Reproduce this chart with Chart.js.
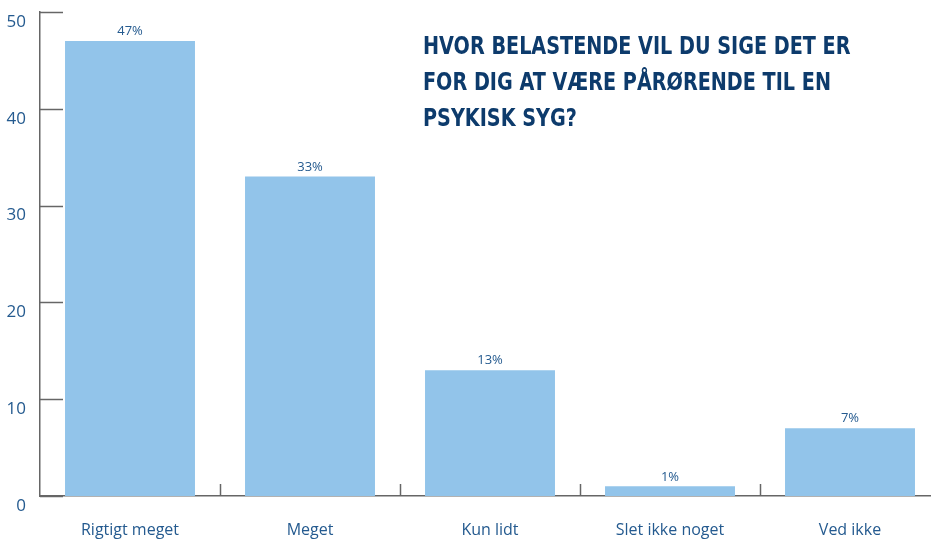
<!DOCTYPE html>
<html>
<head>
    <title>Pårørende belastning</title>
    <script src="https://cdn.jsdelivr.net/npm/chart.js"></script>
    <style>
        body { margin: 0; overflow: hidden; background: #fff; }
        #wrap { position: relative; width: 942px; height: 539px; }
        #title {
            position: absolute; left: 423px; top: 28px;
            font-family: "DejaVu Sans", sans-serif;
            font-weight: bold; font-size: 24px; line-height: 36px;
            color: #0d3b6c; white-space: nowrap;
            transform: scaleX(0.8); transform-origin: left top;
        }
    </style>
</head>
<body>
<div id="wrap">
    <canvas id="myChart"></canvas>
    <div id="title">HVOR BELASTENDE VIL DU SIGE DET ER<br>FOR DIG AT VÆRE PÅRØRENDE TIL EN<br>PSYKISK SYG?</div>
</div>

<script>
    // svarkategorier og andele (%)
    var categories = ["Rigtigt meget", "Meget", "Kun lidt", "Slet ikke noget", "Ved ikke"];
    var values = [47, 33, 13, 1, 7];
    var yTicks = [0, 10, 20, 30, 40, 50];

    var textColor = "#245a8f";
    var axisColor = "#666666";

    // små streger og procent-tekster
    var extras = {
        id: "extras",
        afterDraw: function(chart) {
            var ctx = chart.ctx;
            var area = chart.chartArea;
            var x = chart.scales.x, y = chart.scales.y;
            ctx.save();
            ctx.strokeStyle = axisColor;
            ctx.lineWidth = 1.5;
            // y-streger ind i plottet
            yTicks.forEach(function(v) {
                var py = Math.round(y.getPixelForValue(v)) + 0.5;
                ctx.beginPath();
                ctx.moveTo(area.left, py);
                ctx.lineTo(area.left + 23, py);
                ctx.stroke();
            });
            // streger mellem kategorier
            for (var i = 0; i < categories.length - 1; i++) {
                var bx = Math.round((x.getPixelForValue(i) + x.getPixelForValue(i + 1)) / 2) + 0.5;
                ctx.beginPath();
                ctx.moveTo(bx, area.bottom);
                ctx.lineTo(bx, area.bottom - 12);
                ctx.stroke();
            }
            // procent over søjler
            ctx.fillStyle = textColor;
            ctx.font = "13px 'Open Sans', sans-serif";
            ctx.textAlign = "center";
            ctx.textBaseline = "bottom";
            chart.getDatasetMeta(0).data.forEach(function(bar, i) {
                ctx.fillText(values[i] + "%", bar.x, bar.y - 3);
            });
            ctx.restore();
        }
    };

    var ctx = document.getElementById("myChart").getContext("2d");
    new Chart(ctx, {
        type: "bar",
        data: {
            labels: categories,
            datasets: [{
                data: values,
                backgroundColor: "#92c4ea",
                barPercentage: 0.722,
                categoryPercentage: 1
            }]
        },
        options: {
            responsive: true,
            maintainAspectRatio: false,
            animation: false,
            layout: { padding: { top: 12, right: 2 } },
            plugins: {
                legend: { display: false },
                tooltip: { enabled: false }
            },
            scales: {
                x: {
                    grid: { display: false, drawTicks: false },
                    border: { display: true, color: axisColor, width: 1.5 },
                    ticks: {
                        color: textColor, padding: 25,
                        font: { family: "'Open Sans', sans-serif", size: 16 }
                    },
                    afterFit: function(s) { s.height = 43; s.paddingLeft = 0; s.paddingRight = 0; }
                },
                y: {
                    min: 0, max: 50,
                    grid: { display: false, drawTicks: false },
                    border: { display: true, color: axisColor, width: 1.5 },
                    ticks: {
                        stepSize: 10, color: textColor, padding: 14, labelOffset: 10,
                        font: { family: "'Open Sans', sans-serif", size: 17 }
                    },
                    afterFit: function(s) { s.width = 40; s.paddingTop = 0; s.paddingBottom = 0; }
                }
            }
        },
        plugins: [extras]
    });
</script>
</body>
</html>
